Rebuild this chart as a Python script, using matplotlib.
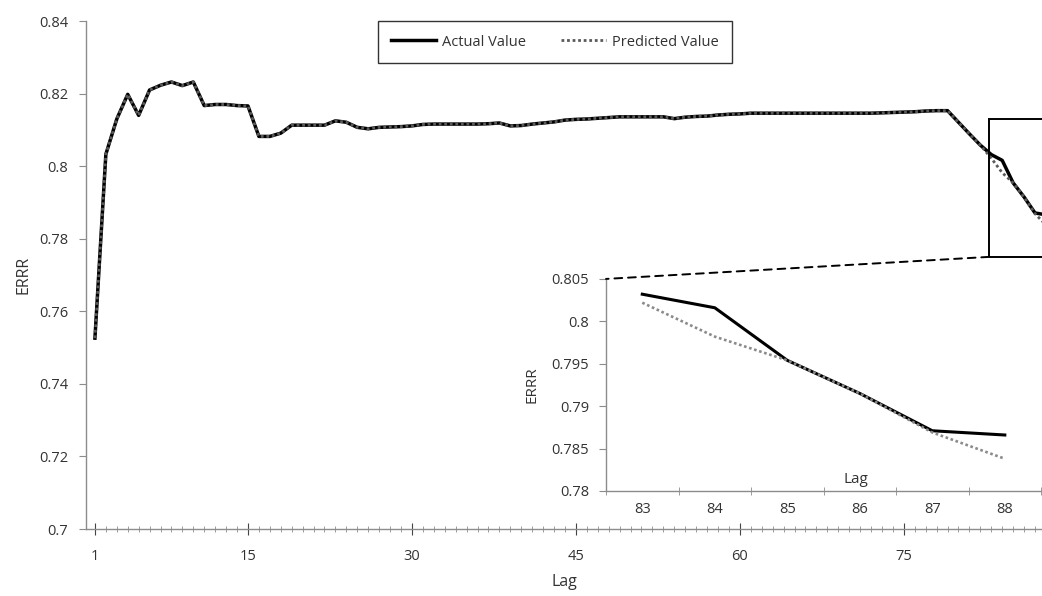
import matplotlib

matplotlib.use("Agg")
import matplotlib.pyplot as plt
from matplotlib.patches import Rectangle, ConnectionPatch
from matplotlib.ticker import MultipleLocator, FixedLocator

plt.rcParams["font.family"] = ["Open Sans", "DejaVu Sans"]

lags = list(range(1, 89))
actual = [
    0.7526, 0.8033, 0.8130, 0.8198, 0.8140, 0.8210, 0.8223, 0.8232, 0.8222, 0.8232,
    0.8167, 0.8170, 0.8170, 0.8167, 0.8166, 0.8082, 0.8082, 0.8091, 0.8113, 0.8113,
    0.8113, 0.8113, 0.8125, 0.8121, 0.8107, 0.8103, 0.8107, 0.8108, 0.8109, 0.8111,
    0.8115, 0.8116, 0.8116, 0.8116, 0.8116, 0.8116, 0.8117, 0.8119, 0.8111, 0.8112,
    0.8116, 0.8119, 0.8122, 0.8127, 0.8129, 0.8130, 0.8132, 0.8134, 0.8136, 0.8136,
    0.8136, 0.8136, 0.8136, 0.8131, 0.8135, 0.8137, 0.8138, 0.8141, 0.8143, 0.8144,
    0.8146, 0.8146, 0.8146, 0.8146, 0.8146, 0.8146, 0.8146, 0.8146, 0.8146, 0.8146,
    0.8146, 0.8146, 0.8147, 0.8148, 0.8149, 0.8150, 0.8152, 0.8153, 0.8153, 0.8121,
    0.8089, 0.8058, 0.8032, 0.8016, 0.7954, 0.7915, 0.7871, 0.7866,
]
# forecast sits on top of the actual curve until lag 82
predicted = actual[:82] + [0.8022, 0.7982, 0.7954, 0.7915, 0.7869, 0.7838]

main_xticks = [1, 15, 30, 45, 60, 75]
zoom_lags = [83, 84, 85, 86, 87, 88]

AXIS_GREY = "#8c8c8c"
PRED_GREY = "#5a5a5a"
TEXT = "#333333"

fig = plt.figure(figsize=(10.42, 5.96), dpi=100)
ax = fig.add_axes([0.0825, 0.1124, 0.9175, 0.8523])

ax.plot(lags, actual, color="black", lw=2.5, label="Actual Value", zorder=3)
ax.plot(lags, predicted, color=PRED_GREY, lw=2.0, ls=(0, (1, 1)),
        label="Predicted Value", zorder=4)

ax.set_xlim(0.18, 87.64)
ax.set_ylim(0.7, 0.84)
ax.set_yticks([0.7, 0.72, 0.74, 0.76, 0.78, 0.8, 0.82, 0.84])
ax.set_yticklabels(["0.7", "0.72", "0.74", "0.76", "0.78", "0.8", "0.82", "0.84"])
ax.xaxis.set_major_locator(FixedLocator(main_xticks))
ax.xaxis.set_minor_locator(MultipleLocator(1))

for side in ("top", "right"):
    ax.spines[side].set_visible(False)
for side in ("left", "bottom"):
    ax.spines[side].set_color(AXIS_GREY)
    ax.spines[side].set_linewidth(1.0)

ax.tick_params(axis="y", direction="out", length=5, color=AXIS_GREY,
               labelsize=10.5, pad=8, labelcolor=TEXT)
ax.tick_params(axis="x", which="major", direction="inout", length=9,
               color="#444444", labelsize=10.5, pad=10, labelcolor=TEXT)
ax.tick_params(axis="x", which="minor", direction="inout", length=5,
               color=AXIS_GREY)

ax.set_ylabel("ERRR", fontsize=11.5, color=TEXT, labelpad=5)
ax.set_xlabel("Lag", fontsize=11.5, color=TEXT, labelpad=7)

leg = ax.legend(loc="center", bbox_to_anchor=(0.4906, 0.9587), ncol=2,
                fontsize=10.5, frameon=True, fancybox=False, handlelength=3.1,
                handletextpad=0.4, columnspacing=2.4, borderpad=0.9,
                borderaxespad=0)
leg.get_frame().set_edgecolor("black")
leg.get_frame().set_linewidth(1.0)
for txt in leg.get_texts():
    txt.set_color(TEXT)

# zoom window over the tail of the curve
ax.add_patch(Rectangle((82.8, 0.775), 10, 0.8129 - 0.775, fill=False,
                       edgecolor="black", lw=1.4, zorder=5))

# inset: last six lags
ax_in = fig.add_axes([0.5816, 0.1762, 0.4175, 0.3558])
ax_in.plot(zoom_lags, actual[82:], color="black", lw=2.2, zorder=3)
ax_in.plot(zoom_lags, predicted[82:], color="#8a8a8a", lw=1.9, ls=(0, (1, 1)),
           zorder=4)
ax_in.set_xlim(82.5, 88.5)
ax_in.set_ylim(0.78, 0.805)
ax_in.set_yticks([0.78, 0.785, 0.79, 0.795, 0.8, 0.805])
ax_in.set_yticklabels(["0.78", "0.785", "0.79", "0.795", "0.8", "0.805"])
ax_in.set_xticks(zoom_lags)
ax_in.set_xticks([82.5 + i for i in range(7)], minor=True)
for side in ("top", "right"):
    ax_in.spines[side].set_visible(False)
for side in ("left", "bottom"):
    ax_in.spines[side].set_color(AXIS_GREY)
    ax_in.spines[side].set_linewidth(1.0)
ax_in.tick_params(axis="y", direction="out", length=5, color=AXIS_GREY,
                  labelsize=10.5, pad=7, labelcolor=TEXT)
ax_in.tick_params(axis="x", which="major", length=0, labelsize=10.5, pad=8,
                  labelcolor=TEXT)
ax_in.tick_params(axis="x", which="minor", direction="inout", length=6,
                  color=AXIS_GREY)
ax_in.set_ylabel("ERRR", fontsize=11, color=TEXT, labelpad=9)
ax_in.set_xlabel("Lag", fontsize=11, color=TEXT)
ax_in.xaxis.set_label_coords(0.575, 0.09)

con = ConnectionPatch(xyA=(82.8, 0.775), coordsA=ax.transData,
                      xyB=(82.5, 0.805), coordsB=ax_in.transData,
                      color="black", lw=1.4, ls=(0, (4, 3)), zorder=6)
fig.add_artist(con)

fig.savefig("out.png", dpi=100)
